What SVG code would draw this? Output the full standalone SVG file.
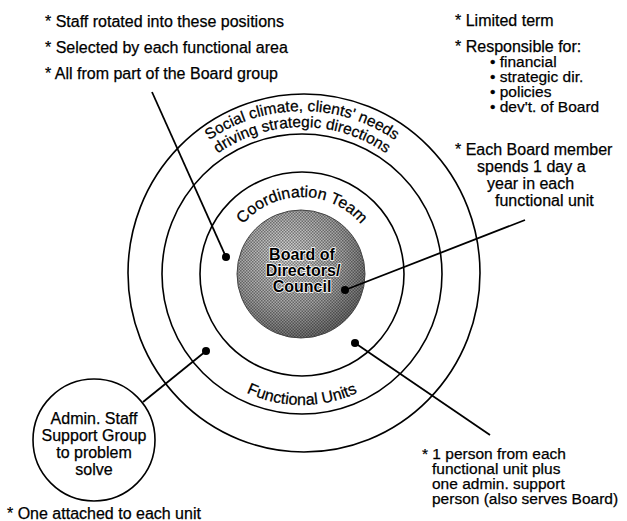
<svg xmlns="http://www.w3.org/2000/svg" width="627" height="521" viewBox="0 0 627 521">
<style>
text{font-family:"Liberation Sans",Arial,sans-serif;font-size:16px;fill:#000;stroke:#000;stroke-width:0.25}
.ring{fill:none;stroke:#000;stroke-width:1.6}
.ln{stroke:#000;stroke-width:1.8;fill:none}
.dot{fill:#000}
.bd{font-weight:bold;text-anchor:middle;stroke:#fff;stroke-width:1.6;paint-order:stroke}
.mid{text-anchor:middle}
.arc{font-size:15.5px}
.nt{font-size:15.5px}
</style>
<defs>
<radialGradient id="shade" cx="0.4" cy="0.35" r="0.7">
<stop offset="0" stop-color="#d6d6d6"/>
<stop offset="0.6" stop-color="#a4a4a4"/>
<stop offset="1" stop-color="#666"/>
</radialGradient>
<pattern id="dots" width="3" height="3" patternUnits="userSpaceOnUse">
<rect x="0" y="0" width="1.5" height="1.5" fill="#000" fill-opacity="0.4"/>
<rect x="1.5" y="1.5" width="1.5" height="1.5" fill="#000" fill-opacity="0.4"/>
</pattern>
<path id="arcTop1" d="M139,274 A163,163 0 0 1 465,274"/>
<path id="arcTop2" d="M155,274 A147,147 0 0 1 449,274"/>
<path id="arcCoord" d="M225,274 A77,77 0 0 1 379,274"/>
<path id="arcFunc" d="M171,274 A131,131 0 0 0 433,274"/>
</defs>

<g id="outer-ring">
<ellipse class="ring" cx="304" cy="273" rx="176" ry="179"/>
<text class="arc"><textPath href="#arcTop1" startOffset="50%" text-anchor="middle">Social climate, clients' needs</textPath></text>
<text class="arc"><textPath href="#arcTop2" startOffset="50%" text-anchor="middle">driving strategic directions</textPath></text>
</g>

<g id="functional-units">
<circle class="ring" cx="302" cy="274" r="140"/>
<text><textPath href="#arcFunc" startOffset="50%" text-anchor="middle">Functional Units</textPath></text>
</g>

<g id="coordination-team">
<circle class="ring" cx="302" cy="274" r="102"/>
<text><textPath href="#arcCoord" startOffset="50%" text-anchor="middle">Coordination Team</textPath></text>
</g>

<g id="board">
<circle cx="301" cy="274" r="64" fill="url(#shade)"/>
<circle cx="301" cy="274" r="64" fill="url(#dots)" stroke="#444" stroke-width="1"/>
<text class="bd" x="302" y="260">Board of</text>
<text class="bd" x="303" y="276">Directors/</text>
<text class="bd" x="302" y="292">Council</text>
</g>

<g id="admin-staff">
<circle class="ring" cx="94" cy="440" r="61"/>
<text class="mid" x="94" y="424">Admin. Staff</text>
<text class="mid" x="94" y="441">Support Group</text>
<text class="mid" x="94" y="458">to problem</text>
<text class="mid" x="94" y="475">solve</text>
</g>

<g id="note-coordination">
<text x="45" y="27">* Staff rotated into these positions</text>
<text x="45" y="53">* Selected by each functional area</text>
<text x="45" y="79">* All from part of the Board group</text>
</g>

<g id="note-board">
<text x="455" y="26">* Limited term</text>
<text x="455" y="52">* Responsible for:</text>
<text class="nt" x="490" y="67">• financial</text>
<text class="nt" x="490" y="82">• strategic dir.</text>
<text class="nt" x="490" y="97">• policies</text>
<text class="nt" x="490" y="112">• dev't. of Board</text>
</g>

<g id="note-board-member">
<text x="455" y="155">* Each Board member</text>
<text x="477" y="172">spends 1 day a</text>
<text x="487" y="189">year in each</text>
<text x="495" y="206">functional unit</text>
</g>

<g id="note-functional">
<text class="nt" x="422" y="459">* 1 person from each</text>
<text class="nt" x="432" y="474">functional unit plus</text>
<text class="nt" x="432" y="489">one admin. support</text>
<text class="nt" x="432" y="504">person (also serves Board)</text>
</g>

<g id="note-admin">
<text x="7" y="519">* One attached to each unit</text>
</g>

<g id="connectors">
<line class="ln" x1="152" y1="92" x2="226" y2="257"/>
<circle class="dot" cx="226" cy="257" r="4"/>
<line class="ln" x1="345" y1="290" x2="525" y2="220"/>
<circle class="dot" cx="345" cy="290" r="4"/>
<line class="ln" x1="355" y1="343" x2="490" y2="435"/>
<circle class="dot" cx="355" cy="343" r="4"/>
<line class="ln" x1="206" y1="351" x2="143" y2="402"/>
<circle class="dot" cx="206" cy="351" r="4"/>
</g>
</svg>
